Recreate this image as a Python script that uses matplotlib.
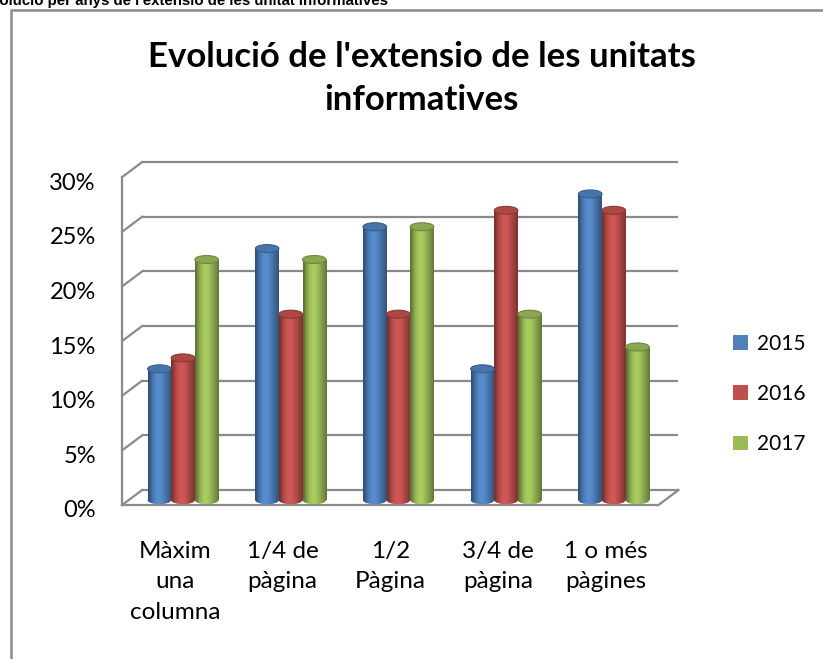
import numpy as np
import matplotlib
matplotlib.use("Agg")
import matplotlib.pyplot as plt
from matplotlib.patches import Ellipse, Patch, Rectangle
from matplotlib.transforms import ScaledTranslation
from matplotlib.colors import to_rgb

categories = ["Màxim\nuna\ncolumna", "1/4 de\npàgina", "1/2\nPàgina", "3/4 de\npàgina", "1 o més\npàgines"]
series_names = ["2015", "2016", "2017"]
values_2015 = [12, 23, 25, 12, 28]
values_2016 = [13, 17, 17, 26.5, 26.5]
values_2017 = [22, 22, 25, 17, 14]
y_ticks = [0, 5, 10, 15, 20, 25, 30]
y_tick_labels = ["0%", "5%", "10%", "15%", "20%", "25%", "30%"]
title = "Evolució de l'extensio de les unitats\ninformatives"
caption = "Evolució per anys de l'extensio de les unitat informatives"

colors = ["#4F81BD", "#C0504D", "#9BBB59"]
grid_color = "#8a8a8a"
FONT = ["Lato", "DejaVu Sans"]

W, H = 823, 659
fig = plt.figure(figsize=(W / 100, H / 100), dpi=100)

# outer chart frame
fig.patches.append(Rectangle((11 / W, -0.1), 1.2, (H - 10) / H + 0.1, transform=fig.transFigure,
                             fill=False, edgecolor="#8c8c8c", lw=1.8, clip_on=False))
# cropped caption at the very top
fig.text(388 / W, (H - 5) / H, caption, ha="right", va="baseline", fontsize=10.8,
         fontweight="bold", family=["Liberation Sans", "DejaVu Sans"])

# axes: pixel box x 100..700, y 150..520 (top-down)
ax = fig.add_axes([100 / W, (H - 520) / H, 600 / W, 370 / H])
ax.set_xlim(-0.7707, 4.8004)
ax.set_ylim(-1.83, 32.02)
for s in ax.spines.values():
    s.set_visible(False)
ax.patch.set_visible(False)

px_x = 107.7   # pixels per category
px_y = 10.93   # pixels per percent
bar_w = 23.6 / px_x
cap_h = 8 / px_y

def shifted(dxp, dyp):
    return ax.transData + ScaledTranslation(dxp / 100, dyp / 100, fig.dpi_scale_trans)

back_t = shifted(13, 10)
front_t = shifted(-7, -5)
x_lo, x_hi = -0.5, 4.48

# back wall gridlines
for v in y_ticks:
    ax.plot([x_lo, x_hi], [v, v], transform=back_t, color=grid_color, lw=1.6,
            solid_capstyle="butt", zorder=1)
def to_disp(t, x, y):
    return t.transform((x, y))
# left wall diagonals and front vertical edge
for v in y_ticks:
    p0 = to_disp(front_t, x_lo, v)
    p1 = to_disp(back_t, x_lo, v)
    ax.plot([p0[0], p1[0]], [p0[1], p1[1]], transform=None, color=grid_color, lw=1.6, zorder=1)
ax.plot([x_lo, x_lo], [0, 30], transform=front_t, color=grid_color, lw=1.6, zorder=1)
# floor front edge and right edge
ax.plot([x_lo, x_hi], [0, 0], transform=front_t, color=grid_color, lw=1.6, zorder=1)
p0 = to_disp(front_t, x_hi, 0)
p1 = to_disp(back_t, x_hi, 0)
ax.plot([p0[0], p1[0]], [p0[1], p1[1]], transform=None, color=grid_color, lw=1.6, zorder=1)

# cylinder shading profile across the width
prof = np.array([0.62, 0.78, 0.92, 1.02, 1.08, 1.1, 1.07, 1.0, 0.92, 0.84, 0.76, 0.66])

def grad_img(color):
    c = np.array(to_rgb(color))
    img = np.clip(prof[:, None] * c[None, :], 0, 1)
    return img[None, :, :]

all_vals = [values_2015, values_2016, values_2017]
offsets = [-bar_w, 0, bar_w]
x = np.arange(len(categories))
for si, (vals, col, off) in enumerate(zip(all_vals, colors, offsets)):
    bars = ax.bar(x + off, vals, width=bar_w, color=col, linewidth=0, zorder=3)
    for xi, v, rect in zip(x, vals, bars):
        xc = xi + off
        x0, x1 = xc - bar_w / 2, xc + bar_w / 2
        e_b = Ellipse((xc, 0), bar_w, cap_h, facecolor=col, lw=0, zorder=3)
        ax.add_patch(e_b)
        im = ax.imshow(grad_img(col), extent=(x0, x1, -cap_h, v), aspect="auto",
                       interpolation="bilinear", zorder=3.1)
        im.set_clip_path(e_b)
        im2 = ax.imshow(grad_img(col), extent=(x0, x1, 0, v), aspect="auto",
                        interpolation="bilinear", zorder=3.2)
        im2.set_clip_path(rect)
        c = np.array(to_rgb(col))
        cap = Ellipse((xc, v), bar_w, cap_h, facecolor=np.clip(c * 0.9, 0, 1),
                      edgecolor=np.clip(c * 0.72, 0, 1), lw=0.8, zorder=3.3)
        ax.add_patch(cap)

ax.set_xlim(-0.7707, 4.8004)
ax.set_ylim(-1.83, 32.02)

# axis tick labels (shifted to the front plane)
ax.set_yticks(y_ticks, y_tick_labels)
ax.set_xticks(x, categories)
ax.tick_params(length=0)
ax.tick_params(axis="y", pad=3, labelsize=17)
ax.tick_params(axis="x", pad=15, labelsize=17.5)
for lab in ax.get_yticklabels():
    lab.set_family(FONT)
    lab.set_transform(lab.get_transform() + ScaledTranslation(0, -0.09, fig.dpi_scale_trans))
for lab in ax.get_xticklabels():
    lab.set_family(FONT)
    lab.set_linespacing(1.56)
    lab.set_transform(lab.get_transform() + ScaledTranslation(-0.08, 0, fig.dpi_scale_trans))

# title
fig.text(422 / W, (H - 41) / H, title, ha="center", va="top", fontsize=25,
         fontweight="bold", family=FONT, linespacing=1.42)

# legend
handles = [Patch(facecolor=c, edgecolor="none") for c in colors]
fig.legend(handles, series_names, loc="center left", bbox_to_anchor=(733 / W, (H - 394) / H),
           frameon=False, prop={"family": FONT, "size": 15}, handlelength=0.72,
           handleheight=0.72, handletextpad=0.45, labelspacing=1.45, borderaxespad=0,
           borderpad=0)

fig.savefig("out.png", dpi=100)
